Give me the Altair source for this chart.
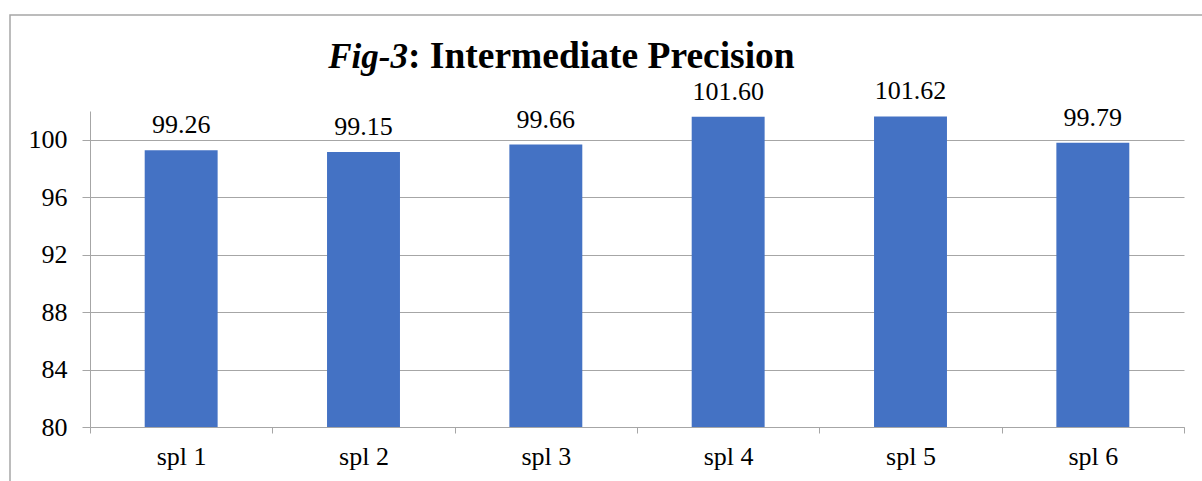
import altair as alt
import pandas as pd

# Assay results for six samples (%)
samples = ["spl 1", "spl 2", "spl 3", "spl 4", "spl 5", "spl 6"]
results = [99.26, 99.15, 99.66, 101.60, 101.62, 99.79]
y_ticks = [80, 84, 88, 92, 96, 100]
y_domain = [80, 102]

df = pd.DataFrame({"sample": samples, "value": results})
df["label"] = [f"{v:.2f}" for v in results]

FONT = "Liberation Serif"
GRAY = "#a6a6a6"
W, H = 1094, 316

x_enc = alt.X(
    "sample:N",
    sort=samples,
    scale=alt.Scale(paddingInner=0, paddingOuter=0),
    axis=alt.Axis(
        title=None, labelAngle=0, tickBand="extent", tickSize=6,
        labelPadding=10, domainColor=GRAY, tickColor=GRAY,
        labelFont=FONT, labelFontSize=26, labelColor="black", grid=False,
    ),
)
y_enc = alt.Y(
    "value:Q",
    scale=alt.Scale(domain=y_domain, nice=False, zero=False),
    axis=alt.Axis(
        title=None, values=y_ticks, tickSize=8, labelPadding=15,
        domainColor=GRAY, tickColor=GRAY, gridColor=GRAY,
        labelFont=FONT, labelFontSize=26, labelColor="black", grid=True,
    ),
)

base = alt.Chart(df)

bars = base.mark_bar(color="#4472C4", width=alt.RelativeBandSize(0.4)).encode(
    x=x_enc, y=y_enc, y2=alt.datum(y_domain[0])
)

# value labels above each bar
labels = base.mark_text(
    font=FONT, fontSize=26, fontStyle="normal", color="black",
    baseline="alphabetic", dy=-17,
).encode(
    x=alt.X("sample:N", sort=samples),
    y="value:Q",
    text="label:N",
)

one = pd.DataFrame({"k": [0]})

title_a = alt.Chart(one).mark_text(
    text="Fig-3", font=FONT, fontSize=35, fontWeight="bold", fontStyle="italic",
    align="right", baseline="alphabetic", color="black",
).encode(x=alt.value(318), y=alt.value(-43))

title_b = alt.Chart(one).mark_text(
    text=": Intermediate Precision", font=FONT, fontSize=37.5, fontWeight="bold",
    align="left", baseline="alphabetic", color="black",
).encode(x=alt.value(318), y=alt.value(-43))

frame = alt.Chart(one).mark_rect(
    fillOpacity=0, stroke=GRAY, strokeWidth=1.5
).encode(x=alt.value(-80), x2=alt.value(1200), y=alt.value(-96), y2=alt.value(500))

chart = (
    alt.layer(frame, bars, title_a, title_b, labels)
    .properties(
        width=W, height=H,
        autosize=alt.AutoSizeParams(type="none"),
        padding={"left": 90, "top": 111, "right": 18, "bottom": 54},
        background="white",
    )
    .configure_view(stroke=None)
    .configure_text(font=FONT)
)

chart.save("out.html", embed_options={"renderer": "svg", "actions": False})
